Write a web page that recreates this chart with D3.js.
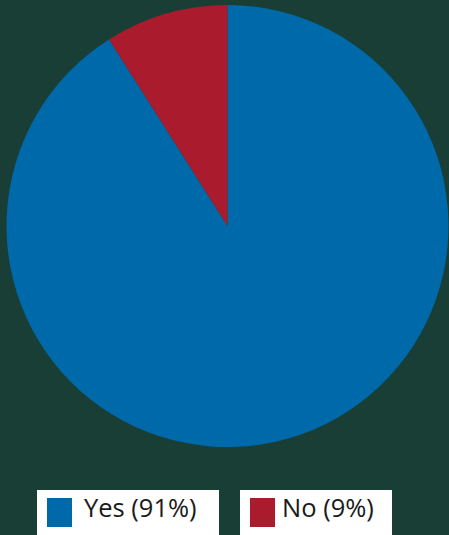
<!DOCTYPE html>
<html><head><meta charset="utf-8">
<script src="https://cdn.jsdelivr.net/npm/d3@7"></script>
<style>html,body{margin:0;padding:0;background:#193e36;}svg{display:block;}</style>
</head><body>
<script>
const categories = ["Yes", "No"];
const values = [91, 9];
const legendLabels = ["Yes (91%)", "No (9%)"];
const colors = ["#0069a9", "#aa1c2d"];

const W = 449, H = 535;
const svg = d3.select("body").append("svg").attr("width", W).attr("height", H);
svg.append("rect").attr("width", W).attr("height", H).attr("fill", "#193e36");

const cx = 227.5, cy = 226, r = 221;
const pie = d3.pie().sort(null).value(d => d.v);
const arcs = pie(categories.map((c, i) => ({c, v: values[i], i})));
const arc = d3.arc().innerRadius(0).outerRadius(r);
const color = d3.scaleOrdinal().domain(categories).range(colors);

svg.append("g").attr("transform", `translate(${cx},${cy})`)
  .selectAll("path").data(arcs).join("path")
  .attr("d", arc).attr("fill", d => color(d.data.c));

const boxes = [{x: 37, w: 182}, {x: 240, w: 152}];
const lg = svg.append("g");
categories.forEach((c, i) => {
  const g = lg.append("g").attr("transform", `translate(${boxes[i].x},490)`);
  g.append("rect").attr("width", boxes[i].w).attr("height", 45).attr("fill", "#ffffff");
  g.append("rect").attr("x", 10).attr("y", 8).attr("width", 25).attr("height", 29).attr("fill", color(c));
  g.append("text").attr("x", i === 0 ? 47 : 42).attr("y", 27)
    .attr("font-family", "'Open Sans', sans-serif").attr("font-size", 25.5)
    .attr("fill", "#1a1a1a").text(legendLabels[i]);
});
</script>
</body></html>
